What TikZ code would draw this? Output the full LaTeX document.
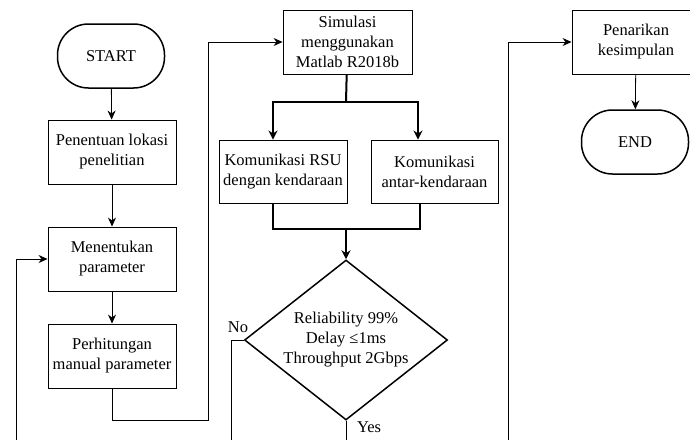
\documentclass[tikz,border=0pt]{standalone}
\usepackage{fontspec}
\setmainfont{Liberation Serif}
\usepackage{tikz}
\usetikzlibrary{shapes,arrows,arrows.meta,positioning}
\newcommand{\flowfont}{\fontsize{16.5}{20}\selectfont}
\tikzstyle{term} = [rectangle, rounded corners=31pt, draw, line width=1.5pt, minimum width=107pt, minimum height=64pt, font=\flowfont]
\tikzstyle{proc} = [rectangle, draw, line width=0.9pt, minimum width=128pt, minimum height=64pt, inner sep=1pt, align=center, font=\flowfont]
\tikzstyle{decide} = [diamond, draw, line width=1.5pt, minimum width=203pt, minimum height=160pt, aspect=1.27, inner sep=0pt, align=center, font=\flowfont]
\tikzstyle{line} = [draw, line width=0.8pt]
\tikzstyle{arrow} = [draw, line width=0.8pt, -{Stealth[length=9pt, width=8pt]}]
\tikzstyle{bline} = [draw, line width=2pt]
\tikzstyle{barrow} = [draw, line width=2pt, -{Stealth[length=9pt, width=9pt]}]

\begin{document}
\begin{tikzpicture}[x=1pt, y=-1pt]
	\useasboundingbox (0,0) rectangle (690,439);
	% first column
	\node [term] (start) at (111, 56) {START};
	\node [proc] (lokasi) at (112, 152) {Penentuan lokasi\\penelitian};
	\node [proc] (param) at (112, 259) {Menentukan\\parameter};
	\node [proc] (hitung) at (112, 356) {Perhitungan\\manual parameter};
	
	% second column
	\node [proc, minimum width=129pt] (simul) at (347.5, 42) {Simulasi\\menggunakan\\Matlab R2018b};
	\node [proc, minimum height=63pt] (rsu) at (283, 171.5) {Komunikasi RSU\\dengan kendaraan};
	\node [proc, minimum width=127pt, minimum height=63pt] (antar) at (434.5, 171.5) {Komunikasi\\antar-kendaraan};
	\node [decide] (cek) at (346, 340) {Reliability 99\%\\Delay ≤1ms\\Throughput 2Gbps};
	\node (no) at (238, 327) {\flowfont No};
	\node (yes) at (369, 427) {\flowfont Yes};
	
	% third column
	\node [proc] (tarik) at (636, 42) {Penarikan\\kesimpulan};
	\node [term] (end) at (635, 142) {END};
	
	\coordinate (turn) at (208, 420);
	\coordinate (split) at (346, 102);
	\coordinate (merge) at (346, 229);
	\coordinate (back) at (16, 445);
	\coordinate (noend) at (231, 445);
	\coordinate (yesend) at (346, 445);
	\coordinate (fwd) at (508, 445);
	
	\path [arrow] (start) -- (lokasi);
	\path [arrow] (lokasi) -- (param);
	\path [arrow] (param) -- (hitung);
	\path [arrow] (hitung) |- (turn) |- (simul);
	\path [bline] (simul) -- (split);
	\path [barrow] (split) -| ([xshift=-10pt]rsu.north);
	\path [barrow] (split) -| ([xshift=-16.5pt]antar.north);
	\path [bline] ([xshift=-10pt]rsu.south) |- (merge) -| ([xshift=-14.5pt]antar.south);
	\path [barrow] (merge) -- (cek);
	\path [line] (cek.west) -| (noend);
	\path [line] (cek.south) -- (yesend);
	\path [arrow] (back) |- (param);
	\path [arrow] (fwd) |- (tarik);
	\path [arrow] (tarik) -- (end);
\end{tikzpicture}
\end{document}
